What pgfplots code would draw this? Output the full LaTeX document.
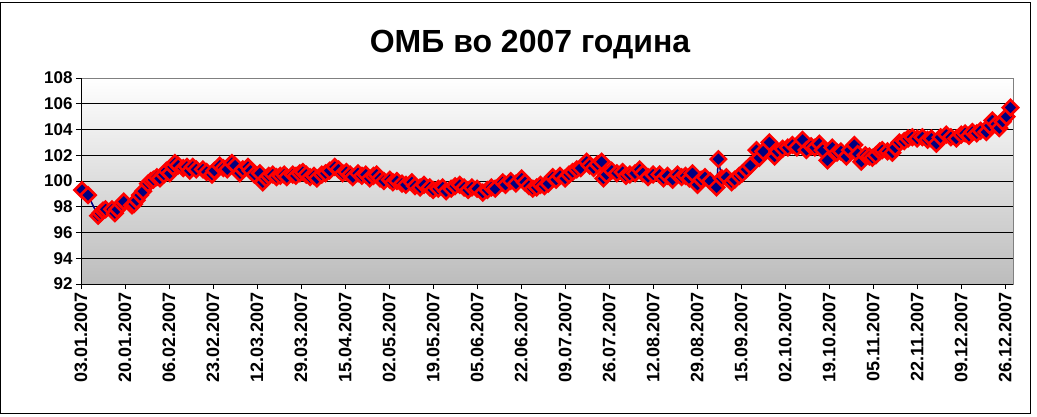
\documentclass[border=0pt]{standalone}
\usepackage{fontspec}
\setmainfont{Liberation Sans}
\usepackage{pgfplots}
\pgfplotsset{compat=1.18}
\definecolor{navyc}{RGB}{0,0,128}
\definecolor{bggray}{RGB}{188,188,188}
\begin{document}
\begin{tikzpicture}[x=1pt,y=1pt]
\path (0,0) rectangle (1037,416);
\draw[black,line width=0.8pt] (0.5,2.5) rectangle (1030.5,413.5);
\node[font=\bfseries\fontsize{32}{32}\selectfont] at (530,371) {ОМБ во 2007 година};
\begin{axis}[
  at={(81pt,132pt)}, anchor=south west,
  width=932pt, height=206pt, scale only axis,
  xmin=3, xmax=363, ymin=92, ymax=108,
  xtick={3,20,37,54,71,88,105,122,139,156,173,190,207,224,241,258,275,292,309,326,343,360},
  xticklabels={03.01.2007,20.01.2007,06.02.2007,23.02.2007,12.03.2007,29.03.2007,15.04.2007,02.05.2007,19.05.2007,05.06.2007,22.06.2007,09.07.2007,26.07.2007,12.08.2007,29.08.2007,15.09.2007,02.10.2007,19.10.2007,05.11.2007,22.11.2007,09.12.2007,26.12.2007},
  ytick={92,94,...,108},
  /pgf/number format/assume math mode=true,
  x tick label style={rotate=90, anchor=east, font=\bfseries\fontsize{18}{18}\selectfont},
  y tick label style={font=\bfseries\fontsize{17}{17}\selectfont},
  tick align=outside, major tick length=5pt,
  tick style={black, line width=0.8pt},
  xtick pos=bottom, ytick pos=left,
  ymajorgrids, major grid style={black, line width=0.8pt},
  axis line style={gray, line width=1pt},
  axis background/.style={top color=white, bottom color=bggray},
  clip=false,
]
\addplot[navyc, line width=1.5pt, mark=square*, mark size=5.4pt,
  mark options={rotate=45, fill=navyc, draw=red, line width=2.6pt, solid}]
coordinates {
(3.4,99.3)(5.7,98.9)(9.6,97.3)(10.5,97.5)(11.5,97.7)(12.5,97.8)(15,97.8)(16.1,97.5)(17,97.8)(18.8,98.2)(19.5,98.4)
(22.7,98.1)(23.5,98.2)(24.5,98.5)(25.8,98.9)(27,99.2)(28.9,99.8)(30,100.0)(31,100.1)(32.3,100.3)(33.5,100.2)
(35,100.5)(36,100.8)(37.3,100.6)(38.5,101.1)(39.3,101.4)(40.5,101.2)(42.5,101.0)(43.9,101.1)(45,100.8)(46.2,101.1)
(47.5,100.9)(50.1,100.9)(51.5,100.7)(53.6,100.5)(54.5,100.8)(56.6,101.2)(58,101.0)(59.5,100.9)(61.3,101.4)(62.5,101.2)
(64.4,100.6)(65.5,100.9)(67.5,101.1)(68.5,100.8)(70,100.5)(72.1,100.6)(73.2,99.9)(74.5,100.2)(75.5,100.4)(77.1,100.5)
(78.5,100.3)(80,100.4)(81.5,100.5)(82.5,100.3)(84.8,100.5)(86,100.4)(87.5,100.6)(88.7,100.7)(90,100.5)(91.5,100.3)
(93,100.4)(94.1,100.2)(96.0,100.5)(97.5,100.6)(99,100.8)(101.0,101.1)(102.5,100.9)(104.1,100.6)(105.5,100.7)(107,100.5)
(108.0,100.3)(110,100.6)(111.5,100.4)(113,100.5)(114.5,100.2)(116,100.4)(117.2,100.5)(118.5,100.2)(120,100.0)(122.3,100.1)
(123.5,99.9)(125,100.0)(127,99.8)(128.5,99.7)(130.8,99.9)(132,99.6)(134,99.5)(135.5,99.7)(137.7,99.5)(139,99.3)
(141,99.4)(142.7,99.5)(144,99.2)(146,99.4)(147.5,99.6)(149.3,99.7)(151,99.5)(152.5,99.3)(154,99.5)(156,99.4)
(158.2,99.1)(160,99.3)(161.5,99.5)(163,99.4)(165.9,99.9)(167,99.7)(169,100.0)(171,99.8)(173.2,100.2)(174.5,99.9)
(176,99.6)(177.5,99.4)(179.0,99.5)(180.5,99.7)(182,99.6)(183.5,99.8)(185.2,100.3)(186.5,100.1)(188,100.4)(190,100.2)
(191.5,100.5)(192.9,100.7)(194.5,100.9)(196,101.0)(198.3,101.5)(199.5,101.2)(201,101.0)(202.5,101.3)(204.1,101.5)(204.8,100.2)
(206,100.5)(208,100.8)(210,100.6)(212.2,100.7)(213.5,100.4)(215,100.5)(217,100.6)(218.8,100.9)(220,100.6)(222,100.3)
(224,100.5)(226.5,100.5)(228,100.2)(229.5,100.4)(231.5,100.1)(233.4,100.5)(235,100.3)(236.5,100.4)(238,100.2)(239.2,100.6)
(241.1,99.7)(242.5,100.1)(244,100.3)(246,100.0)(248.5,99.5)(249.2,101.7)(250.5,100.2)(252.3,100.3)(254.3,99.9)(255.5,100.1)
(257.3,100.4)(258.5,100.6)(260,100.9)(261.5,101.2)(263.9,102.4)(265,101.8)(266.5,102.3)(268.9,103.0)(270.9,101.9)(272,102.3)
(274,102.5)(276,102.6)(277.8,102.8)(279.5,102.6)(281.7,103.2)(283.2,102.4)(285,102.7)(286.5,102.6)(288.2,102.9)(289.5,102.4)
(291.3,101.6)(293.2,102.6)(295,102.2)(296.5,102.3)(298.6,101.9)(300,102.4)(301.7,102.8)(303,102.1)(304.4,101.5)(306,102.0)
(307.5,101.9)(308.7,101.8)(310,102.0)(311.5,102.3)(312.5,102.4)(314.5,102.3)(316.4,102.2)(317.5,102.6)(319.1,103.0)(321,103.1)
(322.5,103.3)(324.1,103.4)(326,103.3)(328,103.4)(330,103.2)(331.5,103.3)(333.4,102.9)(335,103.4)(337.2,103.6)(339,103.4)
(341.1,103.3)(343,103.6)(344.5,103.7)(346,103.5)(347.3,103.8)(349,103.7)(350.5,103.9)(352.7,103.8)(354,104.3)(355.0,104.7)
(356.5,104.4)(357.7,104.1)(359,104.6)(360.5,105.0)(362.0,105.7)
};
\draw[black, line width=1pt] (rel axis cs:0,1) -- (rel axis cs:0,0) -- (rel axis cs:1,0);
\end{axis}
\end{tikzpicture}
\end{document}
